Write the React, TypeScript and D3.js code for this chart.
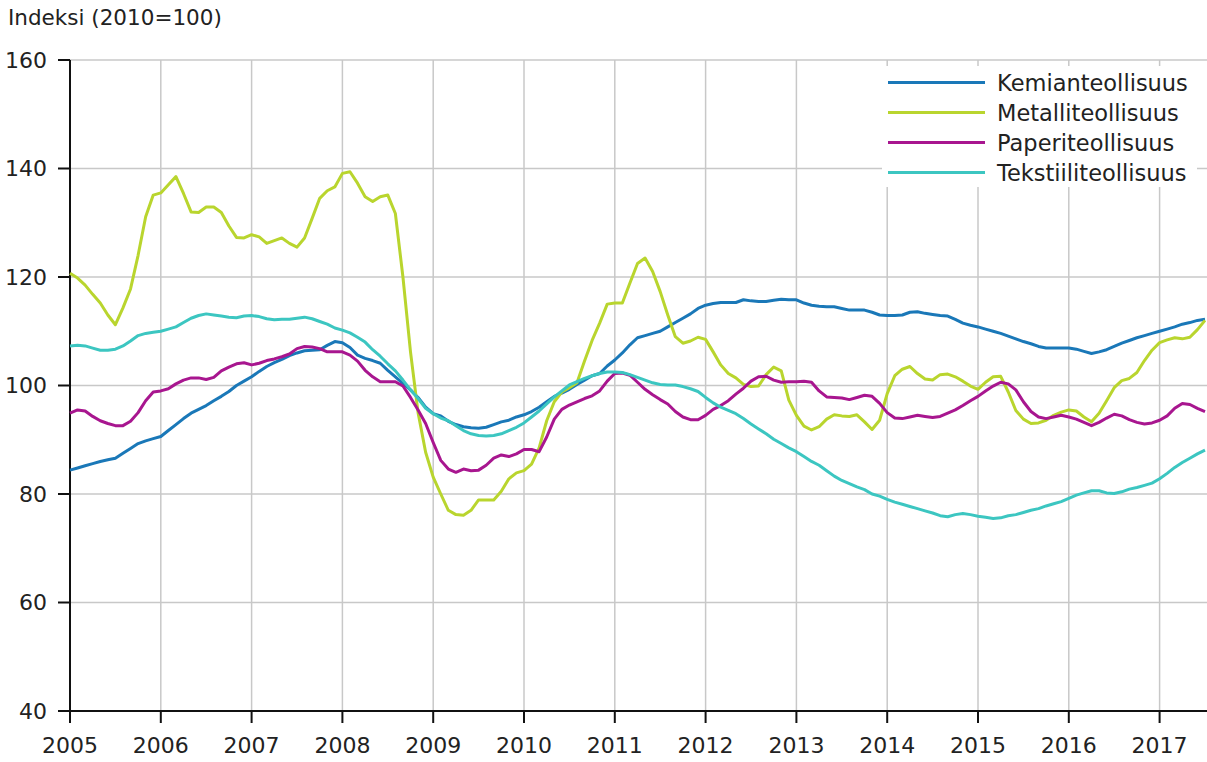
import React from "react";
import * as d3 from "d3";

// kuukausittaiset indeksit, 2005M01 - 2017M07
const kemia = [
  84.4, 84.8, 85.2, 85.6, 86.0, 86.3, 86.6, 87.5, 88.4, 89.3, 89.8, 90.2,
  90.6, 91.7, 92.8, 93.9, 94.9, 95.6, 96.3, 97.2, 98.0, 98.9, 100.0, 100.8,
  101.6, 102.6, 103.5, 104.2, 104.8, 105.5, 106.0, 106.4, 106.5, 106.6, 107.4, 108.1,
  107.9, 107.0, 105.6, 105.0, 104.6, 104.1, 102.8, 101.6, 100.4, 99.2, 97.8, 96.0,
  94.8, 94.4, 93.4, 92.8, 92.4, 92.2, 92.1, 92.3, 92.8, 93.3, 93.6, 94.2,
  94.6, 95.2, 96.0, 97.0, 98.0, 98.6, 99.3, 100.2, 101.0, 101.8, 102.2, 103.6,
  104.7, 106.0, 107.5, 108.8, 109.2, 109.6, 110.0, 110.8, 111.6, 112.4, 113.2, 114.2,
  114.8, 115.1, 115.3, 115.3, 115.3, 115.8, 115.6, 115.5, 115.5, 115.7, 115.9, 115.8,
  115.8, 115.2, 114.8, 114.6, 114.5, 114.5, 114.2, 113.9, 113.9, 113.9, 113.5, 113.0,
  112.9, 112.9, 113.0, 113.5, 113.6, 113.3, 113.1, 112.9, 112.8, 112.2, 111.5, 111.1,
  110.8, 110.4, 110.0, 109.6, 109.1, 108.6, 108.1, 107.7, 107.2, 106.9, 106.9, 106.9,
  106.9, 106.7, 106.3, 105.9, 106.2, 106.6, 107.2, 107.8, 108.3, 108.8, 109.2, 109.6,
  110.0, 110.4, 110.8, 111.3, 111.6, 112.0, 112.2,
];

const metalli = [
  120.7, 119.8, 118.5, 116.8, 115.2, 113.0, 111.2, 114.3, 117.8, 124.0, 131.1, 135.1,
  135.5, 137.0, 138.5, 135.4, 132.0, 131.9, 132.9, 132.9, 131.9, 129.4, 127.3, 127.2,
  127.8, 127.4, 126.2, 126.7, 127.2, 126.2, 125.5, 127.2, 130.8, 134.5, 135.9, 136.6,
  139.1, 139.4, 137.3, 134.8, 133.9, 134.8, 135.1, 131.7, 120.0, 106.2, 95.0, 87.7,
  83.1, 80.0, 77.0, 76.2, 76.1, 77.0, 78.9, 78.9, 78.9, 80.5, 82.8, 83.9,
  84.3, 85.5, 88.5, 93.5, 97.0, 98.8, 99.6, 100.5, 104.5, 108.3, 111.5, 115.0,
  115.2, 115.2, 118.9, 122.5, 123.5, 121.0, 117.3, 113.0, 109.0, 107.8, 108.2, 108.9,
  108.5, 106.2, 103.8, 102.2, 101.4, 100.2, 99.8, 99.9, 102.0, 103.4, 102.7, 97.3,
  94.5, 92.5, 91.8, 92.4, 93.8, 94.6, 94.4, 94.3, 94.6, 93.3, 91.9, 93.6,
  98.5, 101.8, 103.0, 103.5, 102.2, 101.2, 101.0, 102.0, 102.1, 101.6, 100.8, 99.9,
  99.3, 100.6, 101.6, 101.7, 98.8, 95.4, 93.8, 93.0, 93.1, 93.6, 94.5, 95.1,
  95.5, 95.3, 94.2, 93.3, 94.9, 97.2, 99.6, 100.9, 101.3, 102.4, 104.6, 106.5,
  107.9, 108.4, 108.8, 108.6, 108.9, 110.3, 112.0,
];

const paperi = [
  94.9, 95.5, 95.3, 94.3, 93.5, 93.0, 92.6, 92.6, 93.4, 95.0, 97.2, 98.8,
  99.0, 99.4, 100.3, 101.0, 101.4, 101.4, 101.1, 101.5, 102.7, 103.4, 104.0, 104.2,
  103.8, 104.1, 104.6, 104.9, 105.3, 105.8, 106.8, 107.2, 107.1, 106.8, 106.2, 106.2,
  106.2, 105.6, 104.5, 102.8, 101.6, 100.7, 100.7, 100.7, 99.9, 97.8, 95.5, 93.0,
  89.5, 86.2, 84.6, 84.0, 84.6, 84.3, 84.4, 85.3, 86.6, 87.2, 86.9, 87.4,
  88.2, 88.2, 87.8, 90.5, 93.8, 95.6, 96.4, 97.0, 97.6, 98.1, 99.0, 100.8,
  102.2, 102.3, 101.9, 100.6, 99.3, 98.3, 97.4, 96.6, 95.2, 94.2, 93.7, 93.7,
  94.5, 95.6, 96.3, 97.2, 98.4, 99.5, 100.8, 101.6, 101.7, 101.0, 100.6, 100.7,
  100.7, 100.8, 100.6, 99.0, 97.9, 97.8, 97.7, 97.4, 97.8, 98.2, 98.0, 96.7,
  95.0, 94.0, 93.9, 94.2, 94.5, 94.3, 94.1, 94.3, 94.9, 95.5, 96.3, 97.2,
  98.0, 99.0, 99.9, 100.6, 100.3, 99.2, 97.0, 95.2, 94.2, 93.9, 94.2, 94.5,
  94.2, 93.8, 93.2, 92.6, 93.2, 94.0, 94.7, 94.4, 93.7, 93.2, 92.9, 93.1,
  93.6, 94.4, 95.8, 96.7, 96.5, 95.8, 95.2,
];

const tekstiili = [
  107.3, 107.4, 107.3, 106.9, 106.5, 106.5, 106.7, 107.3, 108.2, 109.2, 109.6, 109.8,
  110.0, 110.4, 110.8, 111.6, 112.4, 112.9, 113.2, 113.0, 112.8, 112.6, 112.5, 112.8,
  112.9, 112.7, 112.3, 112.1, 112.2, 112.2, 112.4, 112.6, 112.3, 111.8, 111.3, 110.6,
  110.2, 109.7, 108.9, 108.0, 106.6, 105.4, 104.0, 102.7, 101.0, 99.2, 97.6, 95.8,
  94.8, 94.0, 93.5, 92.6, 91.7, 91.1, 90.8, 90.7, 90.8, 91.1, 91.7, 92.3,
  93.1, 94.2, 95.3, 96.6, 97.9, 99.0, 100.1, 100.7, 101.3, 101.8, 102.2, 102.5,
  102.5, 102.4, 102.0, 101.5, 101.0, 100.5, 100.2, 100.1, 100.1, 99.8, 99.4, 98.9,
  97.8, 96.8, 96.0, 95.4, 94.8, 93.9, 92.9, 92.0, 91.1, 90.1, 89.3, 88.5,
  87.8, 86.9, 86.0, 85.3, 84.3, 83.3, 82.5, 81.9, 81.3, 80.8, 80.0, 79.6,
  79.0, 78.5, 78.1, 77.7, 77.3, 76.9, 76.5, 76.0, 75.8, 76.2, 76.4, 76.2,
  75.9, 75.7, 75.5, 75.6, 76.0, 76.2, 76.6, 77.0, 77.3, 77.8, 78.2, 78.6,
  79.2, 79.8, 80.2, 80.6, 80.6, 80.2, 80.1, 80.4, 80.9, 81.2, 81.6, 82.0,
  82.8, 83.8, 84.9, 85.8, 86.6, 87.4, 88.1,
];

const sarjat = [
  { nimi: "Kemianteollisuus", arvot: kemia, vari: "#1a78b8" },
  { nimi: "Metalliteollisuus", arvot: metalli, vari: "#b9d52e" },
  { nimi: "Paperiteollisuus", arvot: paperi, vari: "#a8168f" },
  { nimi: "Tekstiiliteollisuus", arvot: tekstiili, vari: "#3cc6c1" },
];

const vuodet = d3.range(2005, 2018);
const yTicks = [40, 60, 80, 100, 120, 140, 160];

const W = 1207;
const H = 762;
const left = 70;
const right = 1205;
const top = 60;
const bottom = 711;
const font = "DejaVu Sans, Verdana, sans-serif";

export default function App() {
  const x = d3.scaleLinear().domain([2005, 2017.5]).range([left, right]);
  const y = d3.scaleLinear().domain([40, 160]).range([bottom, top]);

  const line = d3
    .line<number>()
    .x((d, i) => x(2005 + i / 12))
    .y((d) => y(d));

  return (
    <svg
      width={W}
      height={H}
      style={{ position: "absolute", left: 0, top: 0, background: "#fff" }}
      fontFamily={font}
    >
      <text x={8} y={25} fontSize={21.5} fill="#222">
        Indeksi (2010=100)
      </text>

      {/* ruudukko */}
      <g stroke="#c8c8c8" strokeWidth={1.5}>
        {yTicks.map((t) => (
          <line key={t} x1={left} x2={W} y1={y(t)} y2={y(t)} />
        ))}
        {vuodet.map((v) => (
          <line key={v} x1={x(v)} x2={x(v)} y1={top} y2={bottom} />
        ))}
      </g>

      {/* akselit */}
      <g stroke="#111" strokeWidth={2}>
        <line x1={left} x2={left} y1={top} y2={bottom} />
        <line x1={left} x2={W} y1={bottom} y2={bottom} />
        {yTicks.map((t) => (
          <line key={t} x1={left - 12} x2={left} y1={y(t)} y2={y(t)} />
        ))}
        {vuodet.map((v) => (
          <line key={v} x1={x(v)} x2={x(v)} y1={bottom} y2={bottom + 12} />
        ))}
      </g>
      <g fontSize={22} fill="#222">
        {yTicks.map((t) => (
          <text key={t} x={left - 23} y={y(t)} dy="0.36em" textAnchor="end">
            {t}
          </text>
        ))}
        {vuodet.map((v) => (
          <text key={v} x={x(v)} y={753} textAnchor="middle">
            {v}
          </text>
        ))}
      </g>

      {/* sarjat */}
      <g fill="none" strokeWidth={3} strokeLinejoin="round">
        {sarjat.map((s) => (
          <path key={s.nimi} d={line(s.arvot) || ""} stroke={s.vari} />
        ))}
      </g>

      {/* selite */}
      <rect x={882} y={66} width={315} height={121} fill="#fff" />
      {sarjat.map((s, i) => (
        <g key={s.nimi} transform={`translate(888, ${82.5 + i * 30})`}>
          <line x1={0} x2={97} y1={0} y2={0} stroke={s.vari} strokeWidth={3} />
          <text x={109} y={0} dy="0.36em" fontSize={22.5} fill="#222">
            {s.nimi}
          </text>
        </g>
      ))}
    </svg>
  );
}
